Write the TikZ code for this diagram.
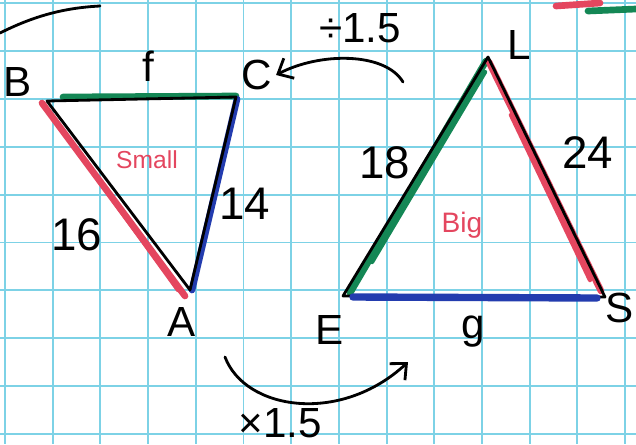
\documentclass[tikz,border=0pt]{standalone}
\usepackage{fontspec}
\setsansfont{Liberation Sans}
\usetikzlibrary{positioning,arrows.meta}
\definecolor{gridcyan}{RGB}{125,210,230}
\definecolor{pengreen}{RGB}{20,135,85}
\definecolor{penblue}{RGB}{35,60,175}
\definecolor{penred}{RGB}{228,70,95}

\begin{document}
\begin{tikzpicture}[
  x=0.02cm, y=-0.02cm,
  font=\sffamily,
  gridline/.style={gridcyan, line width=1.1pt},
  ink/.style={black, line width=1.6pt, line cap=round, line join=round},
  marker/.style={line width=3.8pt, line cap=round},
  lbl/.style={font=\sffamily\fontsize{24}{26}\selectfont, inner sep=0pt},
  num/.style={font=\sffamily\fontsize{26}{28}\selectfont, inner sep=0pt},
  note/.style={text=penred, inner sep=0pt},
  arrow/.style={ink, -{Straight Barb[length=2.5mm, width=4.5mm]}},
]
\useasboundingbox[fill=white] (0,0) rectangle (636,444);

% ===== grid paper =====
\foreach \k in {0,...,13}
  \draw[gridline] ({5+47.7*\k},0) -- ({5+47.7*\k},444);
\foreach \k in {0,...,9}
  \draw[gridline] (0,{3+47.9*\k}) -- (636,{3+47.9*\k});

% scraps cut off at the top edge
\draw[ink] (0,33) .. controls (30,18) and (60,8) .. (100,6);
\draw[marker, penred] (556,6) -- (600,3);
\draw[marker, pengreen] (588,11) -- (636,9);

% ===== LEFT: small triangle =====
\coordinate (B) at (47,101);
\coordinate (C) at (236,97);
\coordinate (A) at (190,290);

\draw[marker, pengreen] ([shift={(16,-4)}]B) -- ([shift={(0,-1)}]C);
\draw[marker, penred] ([shift={(-5,2)}]B) -- ([shift={(-5,6)}]A);
\draw[marker, penred, line width=2.5pt] ([shift={(45,70)}]B) -- ([shift={(-12,0)}]A);
\draw[marker, penblue] ([shift={(1,2)}]C) -- ([shift={(2,0)}]A);
\draw[ink] (B) -- (C) -- (A) -- cycle;

\node[lbl] (lB) at (18,82) {B};
\node[lbl] (lf) at (148,66) {f};
\node[lbl] (lC) at (257,75) {C};
\node[lbl] (lA) at (182,322) {A};
\node[num] (l16) at (77,235) {16};
\node[num] (l14) at (245,204) {14};
\node[note, font=\sffamily\fontsize{14}{15}\selectfont] (small) at (147,160) {Small};

% ===== RIGHT: big triangle =====
\coordinate (L) at (488,57);
\coordinate (E) at (343,296);
\coordinate (S) at (605,297);

\draw[marker, pengreen] ([shift={(-2,4)}]L) -- ([shift={(7,-3)}]E);
\draw[marker, pengreen, line width=2.5pt] ([shift={(-3,15)}]L) -- ([shift={(29,-34)}]E);
\draw[marker, penred] ([shift={(1,5)}]L) -- ([shift={(-4,-6)}]S);
\draw[marker, penred, line width=2.5pt] ([shift={(23,58)}]L) -- ([shift={(-15,-17)}]S);
\draw[ink] (L) -- (S) -- (E) -- cycle;
\draw[marker, penblue, line width=4.2pt] ([shift={(10,1)}]E) -- ([shift={(-8,1)}]S);

\node[lbl] (lL) at (519,45) {L};
\node[lbl] (lE) at (330,330) {E};
\node[lbl] (lg) at (473,332) {g};
\node[lbl] (lS) at (620,308) {S};
\node[num] (l18) at (385,163) {18};
\node[num] (l24) at (588,153) {24};
\node[note, font=\sffamily\fontsize{16}{17}\selectfont] (big) at (462,225) {Big};

% ===== scale arrows =====
\coordinate (d1) at (403,82);
\draw[arrow] (d1) .. controls (385,52) and (320,52) .. ([xshift=2pt]lC.east);
\node[lbl] (div) at (360,28) {÷1.5};

\coordinate (m1) at (225,357);
\coordinate (m2) at (408,362);
\draw[arrow] (m1) .. controls (245,410) and (340,425) .. (m2);
\node[lbl] (mul) at (280,423) {×1.5};
\end{tikzpicture}
\end{document}
